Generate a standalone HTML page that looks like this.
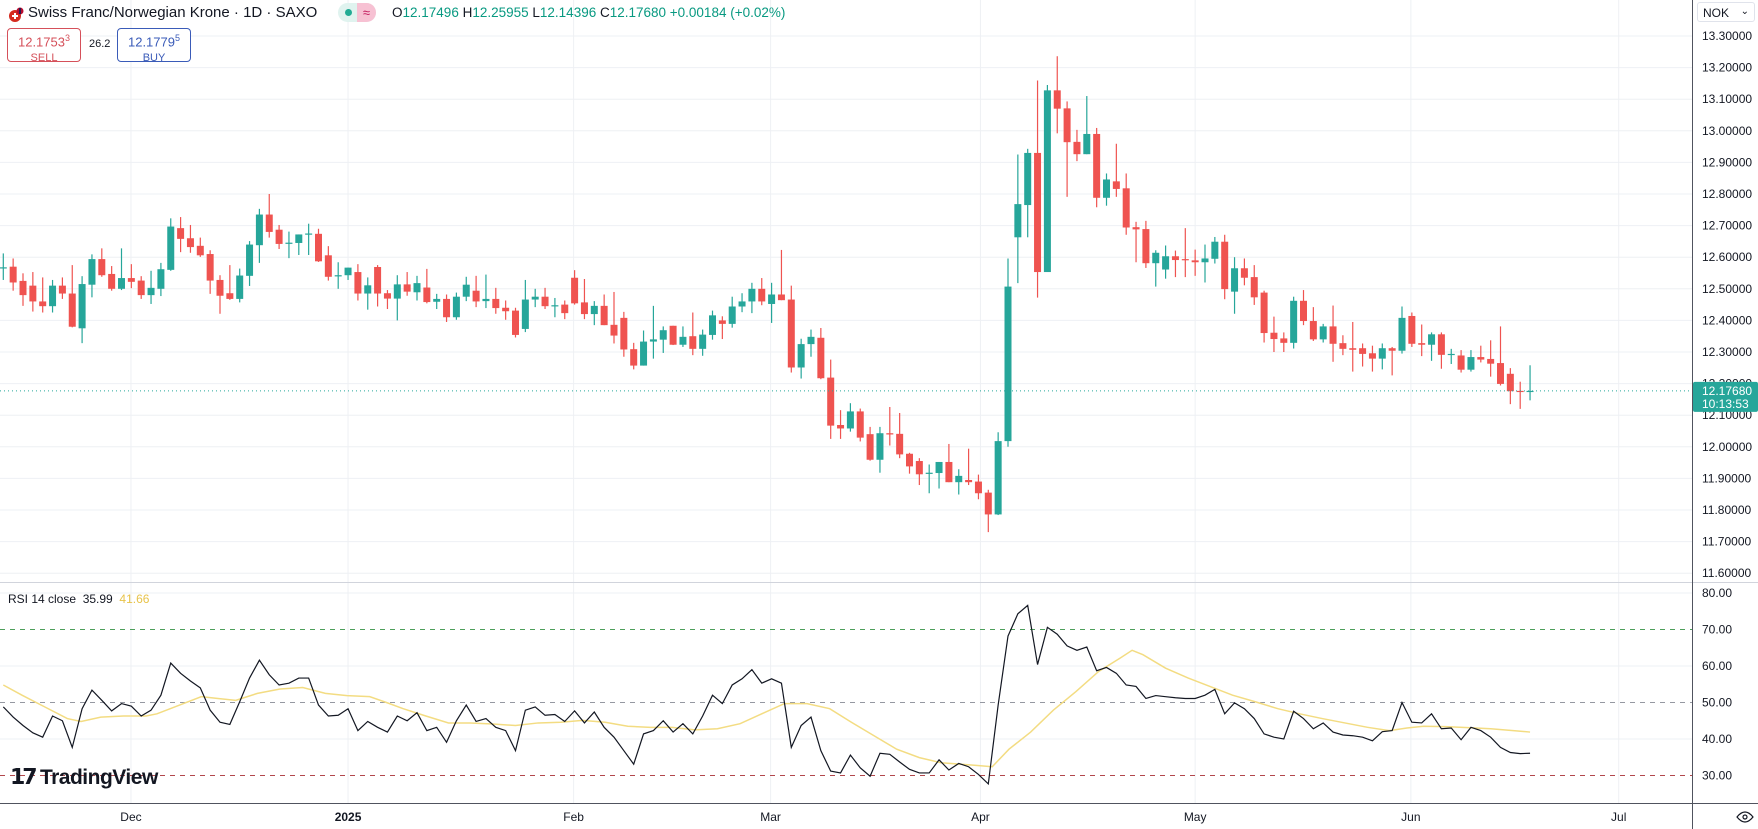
<!DOCTYPE html>
<html><head><meta charset="utf-8">
<style>
html,body{margin:0;padding:0;background:#fff;width:1758px;height:829px;overflow:hidden;font-family:"Liberation Sans",sans-serif;}
#wrap{position:relative;width:1758px;height:829px;}
svg{position:absolute;left:0;top:0;}
.hdr{position:absolute;font-size:14px;color:#131722;white-space:nowrap;}
.box{position:absolute;border:1px solid;border-radius:4px;text-align:center;font-size:13px;line-height:15px;padding-top:2px;box-sizing:border-box;background:#fff;}
</style></head>
<body>
<div id="wrap">
<svg id="chart" width="1758" height="829"></svg>

<div class="hdr" style="left:8px;top:5px;">
 <svg width="16" height="16" style="position:relative;top:2px;left:0"><circle cx="7" cy="9" r="6" fill="#d52b1e"/><rect x="6" y="6" width="2" height="6" fill="#fff"/><rect x="4" y="8" width="6" height="2" fill="#fff"/><circle cx="12" cy="4" r="3.5" fill="#ba0c2f"/><rect x="11.2" y="1" width="1.6" height="6" fill="#00205b"/></svg>
</div>
<div class="hdr" style="left:28px;top:4px;font-size:15px;">Swiss Franc/Norwegian Krone · 1D · SAXO</div>
<div style="position:absolute;left:338px;top:3px;width:38px;height:19px;border-radius:10px;background:#e0f3ef;">
 <div style="position:absolute;left:7px;top:6px;width:7px;height:7px;border-radius:50%;background:#22ab94;"></div>
 <div style="position:absolute;left:19px;top:0;width:19px;height:19px;border-radius:0 10px 10px 0;background:#f7c1d3;color:#c2185b;font-size:13px;text-align:center;line-height:19px;">≈</div>
</div>
<div class="hdr" style="left:392px;top:5px;font-size:13.5px;color:#089981;"><span style="color:#131722">O</span>12.17496 <span style="color:#131722">H</span>12.25955 <span style="color:#131722">L</span>12.14396 <span style="color:#131722">C</span>12.17680 +0.00184 (+0.02%)</div>
<div class="box" style="left:7px;top:28px;width:74px;height:34px;border-color:#d5505a;color:#d5505a;">12.1753<sup style="font-size:9px">3</sup><br><span style="font-size:11px">SELL</span></div>
<div class="hdr" style="left:89px;top:38px;font-size:11px;">26.2</div>
<div class="box" style="left:117px;top:28px;width:74px;height:34px;border-color:#3a5bb8;color:#3a5bb8;">12.1779<sup style="font-size:9px">5</sup><br><span style="font-size:11px">BUY</span></div>
<div style="position:absolute;left:1697px;top:2px;width:58px;height:20px;border:1px solid #e0e3eb;border-radius:3px;font-size:12px;line-height:20px;padding-left:5px;box-sizing:border-box;color:#131722;">NOK<span style="position:absolute;right:5px;top:-1px;font-size:10px;">⌄</span></div>
<div class="hdr" style="left:8px;top:592px;font-size:12px;">RSI 14 close&nbsp; <span>35.99</span>&nbsp; <span style="color:#e8c34a">41.66</span></div>
<div class="hdr" style="left:10px;top:764px;font-size:21px;font-weight:bold;letter-spacing:-0.5px;"><span style="font-size:22px;letter-spacing:-3px;">𝟭𝟳</span> TradingView</div>
</div>
<script>
const opens=[12.566,12.57,12.525,12.51,12.46,12.445,12.51,12.485,12.375,12.513,12.594,12.547,12.50,12.534,12.526,12.48,12.50,12.56,12.692,12.66,12.636,12.61,12.528,12.486,12.468,12.541,12.638,12.735,12.687,12.644,12.645,12.673,12.674,12.606,12.541,12.543,12.553,12.485,12.569,12.486,12.469,12.514,12.489,12.504,12.459,12.468,12.41,12.475,12.494,12.461,12.468,12.44,12.431,12.373,12.466,12.475,12.446,12.45,12.535,12.457,12.42,12.446,12.386,12.408,12.309,12.257,12.333,12.339,12.383,12.323,12.35,12.31,12.354,12.40,12.389,12.444,12.46,12.50,12.452,12.482,12.466,12.251,12.325,12.345,12.219,12.069,12.058,12.112,12.04,11.959,12.043,12.041,11.978,11.955,11.916,11.917,11.952,11.888,11.895,11.89,11.855,11.786,12.018,12.663,12.765,12.93,12.553,13.128,13.071,12.965,12.926,12.99,12.788,12.84,12.818,12.695,12.689,12.581,12.561,12.603,12.594,12.59,12.584,12.595,12.649,12.491,12.565,12.537,12.488,12.361,12.343,12.329,12.462,12.398,12.34,12.381,12.328,12.312,12.312,12.296,12.279,12.312,12.304,12.414,12.328,12.323,12.356,12.292,12.289,12.244,12.284,12.278,12.265,12.231,12.177,12.175];
const highs=[12.612,12.596,12.549,12.553,12.536,12.528,12.536,12.575,12.54,12.609,12.628,12.572,12.628,12.578,12.54,12.557,12.582,12.723,12.727,12.702,12.662,12.622,12.543,12.575,12.564,12.651,12.753,12.80,12.702,12.681,12.672,12.706,12.69,12.635,12.584,12.567,12.578,12.536,12.575,12.496,12.543,12.553,12.541,12.563,12.484,12.482,12.488,12.538,12.541,12.545,12.503,12.463,12.44,12.528,12.50,12.503,12.471,12.463,12.559,12.531,12.461,12.482,12.49,12.427,12.329,12.368,12.446,12.381,12.383,12.381,12.425,12.371,12.431,12.413,12.475,12.486,12.519,12.534,12.519,12.623,12.51,12.342,12.371,12.376,12.276,12.116,12.138,12.121,12.063,12.063,12.126,12.107,11.981,11.964,11.944,11.952,12.009,11.929,11.994,11.912,11.864,12.046,12.596,12.925,12.943,13.159,13.145,13.236,13.093,13.003,13.11,13.009,12.865,12.959,12.865,12.712,12.715,12.622,12.637,12.621,12.692,12.624,12.64,12.664,12.671,12.60,12.596,12.575,12.494,12.412,12.362,12.475,12.496,12.442,12.389,12.447,12.353,12.395,12.327,12.32,12.327,12.316,12.444,12.425,12.387,12.362,12.362,12.31,12.306,12.306,12.32,12.337,12.381,12.249,12.206,12.258];
const lows=[12.528,12.494,12.446,12.428,12.425,12.425,12.468,12.378,12.328,12.473,12.538,12.494,12.496,12.502,12.468,12.452,12.477,12.557,12.616,12.614,12.601,12.484,12.421,12.465,12.457,12.509,12.582,12.662,12.626,12.597,12.607,12.607,12.585,12.526,12.50,12.528,12.463,12.434,12.444,12.436,12.40,12.478,12.463,12.454,12.436,12.395,12.402,12.461,12.442,12.439,12.421,12.402,12.346,12.363,12.442,12.436,12.41,12.404,12.45,12.404,12.385,12.385,12.327,12.285,12.245,12.257,12.279,12.297,12.322,12.316,12.29,12.288,12.339,12.341,12.377,12.426,12.423,12.448,12.392,12.464,12.235,12.216,12.285,12.214,12.025,12.025,12.048,12.017,11.956,11.918,12.004,11.964,11.915,11.879,11.853,11.868,11.888,11.849,11.879,11.834,11.73,11.784,12.0,12.518,12.663,12.472,12.553,12.992,12.791,12.904,12.926,12.758,12.763,12.791,12.671,12.584,12.566,12.507,12.532,12.537,12.537,12.541,12.52,12.58,12.467,12.421,12.511,12.449,12.33,12.30,12.30,12.311,12.385,12.335,12.33,12.269,12.29,12.238,12.254,12.238,12.245,12.226,12.295,12.316,12.287,12.272,12.247,12.262,12.235,12.238,12.267,12.222,12.194,12.135,12.12,12.147];
const closes=[12.568,12.52,12.48,12.46,12.445,12.51,12.485,12.38,12.515,12.594,12.543,12.50,12.534,12.522,12.48,12.503,12.562,12.697,12.658,12.632,12.606,12.526,12.478,12.468,12.542,12.64,12.735,12.68,12.642,12.646,12.672,12.675,12.587,12.538,12.543,12.567,12.485,12.511,12.485,12.469,12.514,12.491,12.518,12.458,12.468,12.41,12.475,12.513,12.46,12.468,12.439,12.429,12.354,12.466,12.475,12.445,12.448,12.423,12.454,12.42,12.446,12.385,12.352,12.308,12.257,12.333,12.34,12.369,12.323,12.348,12.31,12.355,12.416,12.389,12.444,12.46,12.50,12.46,12.482,12.464,12.251,12.325,12.348,12.217,12.067,12.058,12.112,12.029,11.959,12.043,12.039,11.976,11.938,11.913,11.918,11.952,11.888,11.908,11.888,11.853,11.786,12.018,12.507,12.768,12.93,12.553,13.128,13.07,12.964,12.926,12.99,12.788,12.846,12.816,12.694,12.688,12.581,12.614,12.603,12.591,12.592,12.584,12.596,12.649,12.499,12.565,12.535,12.473,12.36,12.341,12.329,12.462,12.398,12.34,12.381,12.326,12.31,12.307,12.294,12.279,12.312,12.304,12.408,12.326,12.323,12.356,12.291,12.294,12.244,12.284,12.276,12.263,12.199,12.176,12.176,12.177];
const rsiValues=[48.8,46,43.7,41.7,40.5,46.3,45,37.7,48.3,53.4,50.6,47.7,49.7,49,46.3,47.9,52,60.8,58,55.9,54,47.9,44.6,44,50.2,56.7,61.6,57.6,54.8,55.3,56.7,56.7,49.3,46.3,46.5,48.3,42.3,44.8,43.2,41.9,46.3,45,47.2,42.3,43.2,39.1,45,49.3,44.8,45.6,43.2,42.3,36.8,47.9,48.8,46.5,46.7,44.8,47.7,44.4,47.4,43.2,40.5,36.8,33.1,41.4,42.3,45,41.9,44.2,41.4,46.3,52,49.7,54.8,56.5,59,55.3,56.5,55.3,37.7,43.7,46,36.8,31.2,30.7,35.6,32.1,29.8,36.1,35.8,33.7,31.7,30.7,30.7,34.3,31.5,33.3,32.4,30.3,27.7,49.3,68.2,74.3,76.6,60.4,70.6,68.7,65.5,64.3,65.2,58.7,59.6,58,54.8,54.4,51.1,51.9,51.6,51.3,51.1,51.1,52,53.6,46.9,49.9,48.3,45.6,41.4,40.5,40,47.6,45.6,42.8,44.4,41.9,41.1,40.9,40.5,39.5,42,42.3,50,44.6,44.4,46.9,42.8,43,39.8,43.2,42.3,40.5,37.7,36.3,36,36.1];
const maBarPos=[0,1.9,4.2,6.5,7.9,9.9,12.2,14.5,15.6,17.9,20.1,21.8,23.6,25.8,28.1,30.4,32.7,34.9,37.2,38.9,40.6,42.9,45.2,47.4,49.7,52,54.3,56.6,58.8,61.1,63.4,65.7,67.9,70.2,72.5,74.8,77,79.3,81.6,83.9,86.1,88.4,90.7,93,95.2,98.6,100.4,102.1,104.3,106.6,108.9,111.2,113.4,114.6,115.7,118,120.3,122.5,124.8,127.1,129.4,131.6,133.9,136.2,138.5,140.7,142.5,144.2,146.4,148.7,151,153.3,155];
const maValues=[54.8,52.0,48.8,45.6,44.8,46.0,46.3,46.3,46.9,49.3,51.6,51.1,50.6,52.5,53.7,54.1,52.5,51.9,51.6,50.0,48.3,46.3,44.4,44.4,44.1,43.7,44.4,44.6,45.1,44.6,43.5,43.2,43.2,42.5,42.8,44.2,46.9,49.7,49.7,48.3,44.6,40.9,37.2,34.9,33.5,32.8,32.4,37.2,41.9,47.9,53.0,58.5,62.2,64.3,63.1,59.4,56.7,54.4,52.0,50.2,48.3,46.9,45.6,44.4,43.2,42.3,43.0,43.5,43.4,43.1,42.8,42.3,41.9];
const priceTicks=[11.6,11.7,11.8,11.9,12.0,12.1,12.2,12.3,12.4,12.5,12.6,12.7,12.8,12.9,13.0,13.1,13.2,13.3];
const rsiTicks=[30,40,50,60,70,80];
const monthLabels=["Dec","2025","Feb","Mar","Apr","May","Jun","Jul"];
const monthBarPos=[12.96,35,57.9,77.9,99.2,121,142.9,164];
const lastPrice=12.1768;
const lastTime="10:13:53";

const NS="http://www.w3.org/2000/svg";
const svg=document.getElementById('chart');
const PLOT_R=1692;
function xBar(i){return 3.3+i*9.85;}
function yPrice(p){return 36+(13.3-p)*316;}
function yRsi(v){return 593+(80-v)*3.65;}
function mk(tag,attrs,parent){const e=document.createElementNS(NS,tag);for(const k in attrs)e.setAttribute(k,attrs[k]);(parent||svg).appendChild(e);return e;}

// grids
const grid=mk('g',{});


priceTicks.forEach(t=>{const l=mk('line',{x1:0,x2:PLOT_R,y1:yPrice(t),y2:yPrice(t),stroke:'#eef0f4','stroke-width':1},grid);

});
rsiTicks.forEach(t=>{if(t===30||t===50||t===70)return;const l=mk('line',{x1:0,x2:PLOT_R,y1:yRsi(t),y2:yRsi(t),stroke:'#eef0f4'},grid);

});
monthBarPos.forEach(m=>{const l=mk('line',{x1:xBar(m),x2:xBar(m),y1:0,y2:803,stroke:'#eef0f4'},grid);

});

// candles
const cg=mk('g',{});


closes.forEach((c,i)=>{
 const o=opens[i],h=highs[i],l=lows[i];const col=c>=o?'#26a69a':'#ef5350';const x=xBar(i);
 const g=mk('g',{},cg);
 
 
 mk('line',{x1:x,x2:x,y1:yPrice(h),y2:yPrice(l),stroke:col,'stroke-width':1.2},g);
 const yt=yPrice(Math.max(o,c)),yb=yPrice(Math.min(o,c));
 mk('rect',{x:x-3.5,y:yt,width:7,height:Math.max(1.2,yb-yt),fill:col},g);
});

// last price line
const lp=mk('line',{x1:0,x2:PLOT_R,y1:yPrice(lastPrice),y2:yPrice(lastPrice),stroke:'#26a69a','stroke-width':1,'stroke-dasharray':'1 3'});



// pane separators and axis lines
const sep=mk('line',{x1:0,x2:1758,y1:582.5,y2:582.5,stroke:'#d1d4dc'});


const bx=mk('line',{x1:0,x2:1758,y1:803.5,y2:803.5,stroke:'#50535e'});


const ry=mk('line',{x1:PLOT_R+0.5,x2:PLOT_R+0.5,y1:0,y2:829,stroke:'#50535e'});



// RSI bands
[[70,'#4c9e5a'],[50,'#9598a1'],[30,'#b2474c']].forEach(([v,c])=>{const l=mk('line',{x1:0,x2:PLOT_R,y1:yRsi(v),y2:yRsi(v),stroke:c,'stroke-dasharray':'5 5'});

});

// RSI MA
const maPath=mk('polyline',{points:maBarPos.map((b,i)=>xBar(b)+','+yRsi(maValues[i])).join(' '),fill:'none',stroke:'#f3dc82','stroke-width':1.5});


// RSI line
const rsiPath=mk('polyline',{points:rsiValues.map((v,i)=>xBar(i)+','+yRsi(v)).join(' '),fill:'none',stroke:'#131722','stroke-width':1.2});



// axis labels
const ax=mk('g',{'font-family':'Liberation Sans, sans-serif','font-size':12,fill:'#131722'});


priceTicks.forEach(t=>{const tx=mk('text',{x:1702,y:yPrice(t)+4},ax);tx.textContent=t.toFixed(5);

});
rsiTicks.forEach(t=>{const tx=mk('text',{x:1702,y:yRsi(t)+4},ax);tx.textContent=t.toFixed(2);

});
monthLabels.forEach((m,i)=>{const tx=mk('text',{x:xBar(monthBarPos[i]),y:821,'text-anchor':'middle','font-weight':m==='2025'?'bold':'normal'},ax);tx.textContent=m;

});

// last price label
const lg=mk('g',{});


const ly=yPrice(lastPrice);
mk('rect',{x:PLOT_R+1,y:ly-9,width:65,height:30,fill:'#26a69a',rx:2},lg);
const t1=mk('text',{x:1702,y:ly+4,fill:'#fff','font-size':12,'font-family':'Liberation Sans, sans-serif'},lg);t1.textContent=lastPrice.toFixed(5);
const t2=mk('text',{x:1702,y:ly+17,fill:'#fff','font-size':12,'font-family':'Liberation Sans, sans-serif'},lg);t2.textContent=lastTime;

// eye icon
const eye=mk('g',{});


mk('path',{d:'M1737 817 Q1745 807 1753 817 Q1745 827 1737 817 Z',fill:'none',stroke:'#131722','stroke-width':1.2},eye);
mk('circle',{cx:1745,cy:817,r:2,fill:'none',stroke:'#131722','stroke-width':1.2},eye);
</script>
</body></html>
